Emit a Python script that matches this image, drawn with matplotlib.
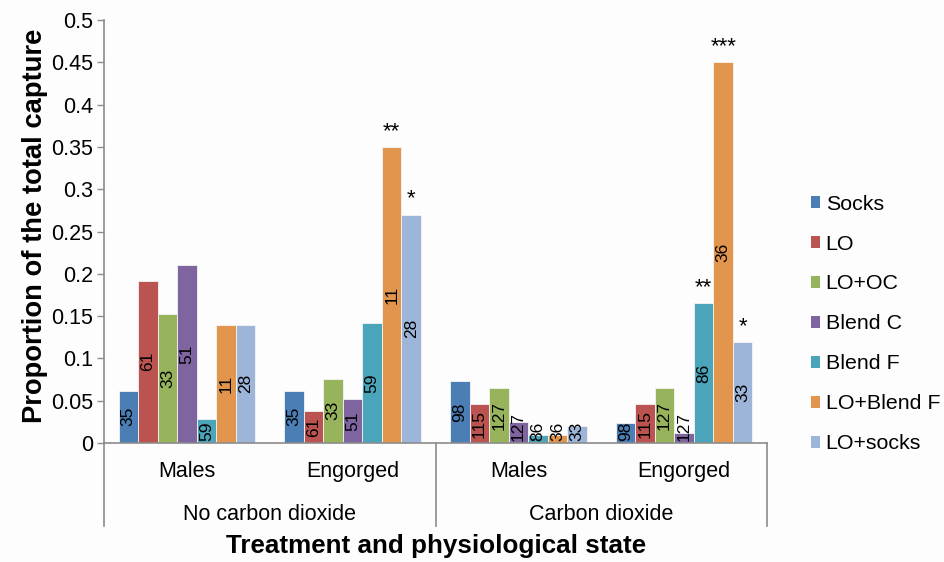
###############################
# Proportion of total capture #
# grouped bar chart           #
###############################
import matplotlib
matplotlib.use("Agg")
import matplotlib.pyplot as plt
from matplotlib.patches import Patch
import numpy as np

plt.rcParams['font.family'] = ['Liberation Sans', 'DejaVu Sans']

# Categories on the x axis
categories = ["Males", "Engorged", "Males", "Engorged"]
treatments = ["No carbon dioxide", "Carbon dioxide"]

# Series names (legend order)
series_names = ["Socks", "LO", "LO+OC", "Blend C", "Blend F", "LO+Blend F", "LO+socks"]

# Proportion of the total capture, one list per series
socks = [0.062, 0.062, 0.073, 0.024]
lo = [0.192, 0.038, 0.046, 0.046]
lo_oc = [0.153, 0.076, 0.065, 0.065]
blend_c = [0.21, 0.052, 0.025, 0.012]
blend_f = [0.028, 0.142, 0.010, 0.165]
lo_blend_f = [0.14, 0.35, 0.010, 0.45]
lo_socks = [0.14, 0.27, 0.020, 0.119]

# Numbers written inside the bars
socks_n = [35, 35, 98, 98]
lo_n = [61, 61, 115, 115]
lo_oc_n = [33, 33, 127, 127]
blend_c_n = [51, 51, 127, 127]
blend_f_n = [59, 59, 86, 86]
lo_blend_f_n = [11, 11, 36, 36]
lo_socks_n = [28, 28, 33, 33]

# Significance marks above the bars
socks_sig = ["", "", "", ""]
lo_sig = ["", "", "", ""]
lo_oc_sig = ["", "", "", ""]
blend_c_sig = ["", "", "", ""]
blend_f_sig = ["", "", "", "**"]
lo_blend_f_sig = ["", "**", "", "***"]
lo_socks_sig = ["", "*", "", "*"]

colors = ["#4a7eb4", "#bb5450", "#97b45c", "#7f659f", "#4aa5bb", "#e2954d", "#9db5d8"]

values = [socks, lo, lo_oc, blend_c, blend_f, lo_blend_f, lo_socks]
counts = [socks_n, lo_n, lo_oc_n, blend_c_n, blend_f_n, lo_blend_f_n, lo_socks_n]
marks = [socks_sig, lo_sig, lo_oc_sig, blend_c_sig, blend_f_sig, lo_blend_f_sig, lo_socks_sig]

axis_grey = "#8c8c8c"
bg = "#fdfdfe"


#############################
# Draw the chart
#############################
def draw_chart():
  fig = plt.figure(figsize=(9.44, 5.62), dpi=100, facecolor=bg)
  ax = fig.add_axes([104 / 944, 1 - 443 / 562, 663 / 944, 423 / 562], facecolor=bg)

  x = np.arange(len(categories))
  n_series = len(values)
  width = 0.824 / n_series

  # px to data units on y
  px = 0.5 / 423

  for i in range(n_series):
    xs = x - 0.412 + width * (i + 0.5)
    ax.bar(xs, values[i], width, color=colors[i], edgecolor="#f4f4f4", linewidth=0.6, zorder=2)

    for j in range(len(categories)):
      v = values[i][j]
      label = str(counts[i][j])
      text_len = len(label) * 9.5 * px
      if v > text_len + 4 * px:
        ax.text(xs[j], v / 2, label, rotation=90, ha="center", va="center",
                fontsize=12.5, color="black", zorder=3)
      else:
        ax.text(xs[j], 2 * px, label, rotation=90, ha="center", va="bottom",
                fontsize=12.5, color="black", zorder=3)

      if marks[i][j]:
        ax.text(xs[j], v + 5 * px, marks[i][j], ha="center", va="bottom",
                fontsize=16, color="black", zorder=3)

  ax.set_xlim(-0.5, len(categories) - 0.5)
  ax.set_ylim(0, 0.5)
  ax.set_yticks(np.arange(0, 0.501, 0.05))
  ax.set_yticklabels(["0", "0.05", "0.1", "0.15", "0.2", "0.25", "0.3",
                      "0.35", "0.4", "0.45", "0.5"])
  ax.tick_params(axis="y", length=5, width=1, color=axis_grey, labelsize=15.5, pad=3)

  ax.set_xticks(x)
  ax.set_xticklabels(categories)
  ax.tick_params(axis="x", length=0, labelsize=15.5, pad=13)

  for side in ["top", "right"]:
    ax.spines[side].set_visible(False)
  ax.spines["left"].set_color(axis_grey)
  ax.spines["bottom"].set_color(axis_grey)
  ax.spines["left"].set_linewidth(1.2)
  ax.spines["bottom"].set_linewidth(1.2)

  # separators for the two treatment groups
  trans = ax.get_xaxis_transform()
  for sx in [-0.5, 1.5, 3.5]:
    ax.plot([sx, sx], [0, -83 / 423], color=axis_grey, linewidth=1.2,
            transform=trans, clip_on=False)

  for k, name in enumerate(treatments):
    ax.text(2 * k + 0.5, -71 / 423, name, transform=trans, ha="center",
            va="center", fontsize=15.5)

  fig.text(436 / 944, 1 - 546 / 562, "Treatment and physiological state",
           ha="center", va="center", fontsize=18.7, fontweight="bold")
  fig.text(35 / 944, 1 - 226 / 562, "Proportion of the total capture",
           ha="center", va="center", rotation=90, fontsize=19.7, fontweight="bold")

  handles = [Patch(facecolor=c, edgecolor="none") for c in colors]
  fig.legend(handles, series_names, loc="upper left",
             bbox_to_anchor=(802 / 944, 1 - 186 / 562), frameon=False,
             fontsize=15.4, handlelength=0.46, handleheight=0.46,
             handletextpad=0.25, labelspacing=0.98, borderaxespad=0)

  fig.savefig("out.png", dpi=100, facecolor=bg)


#############################
# Main()
#############################
def main():
  draw_chart()


if __name__ == "__main__":
  main()
